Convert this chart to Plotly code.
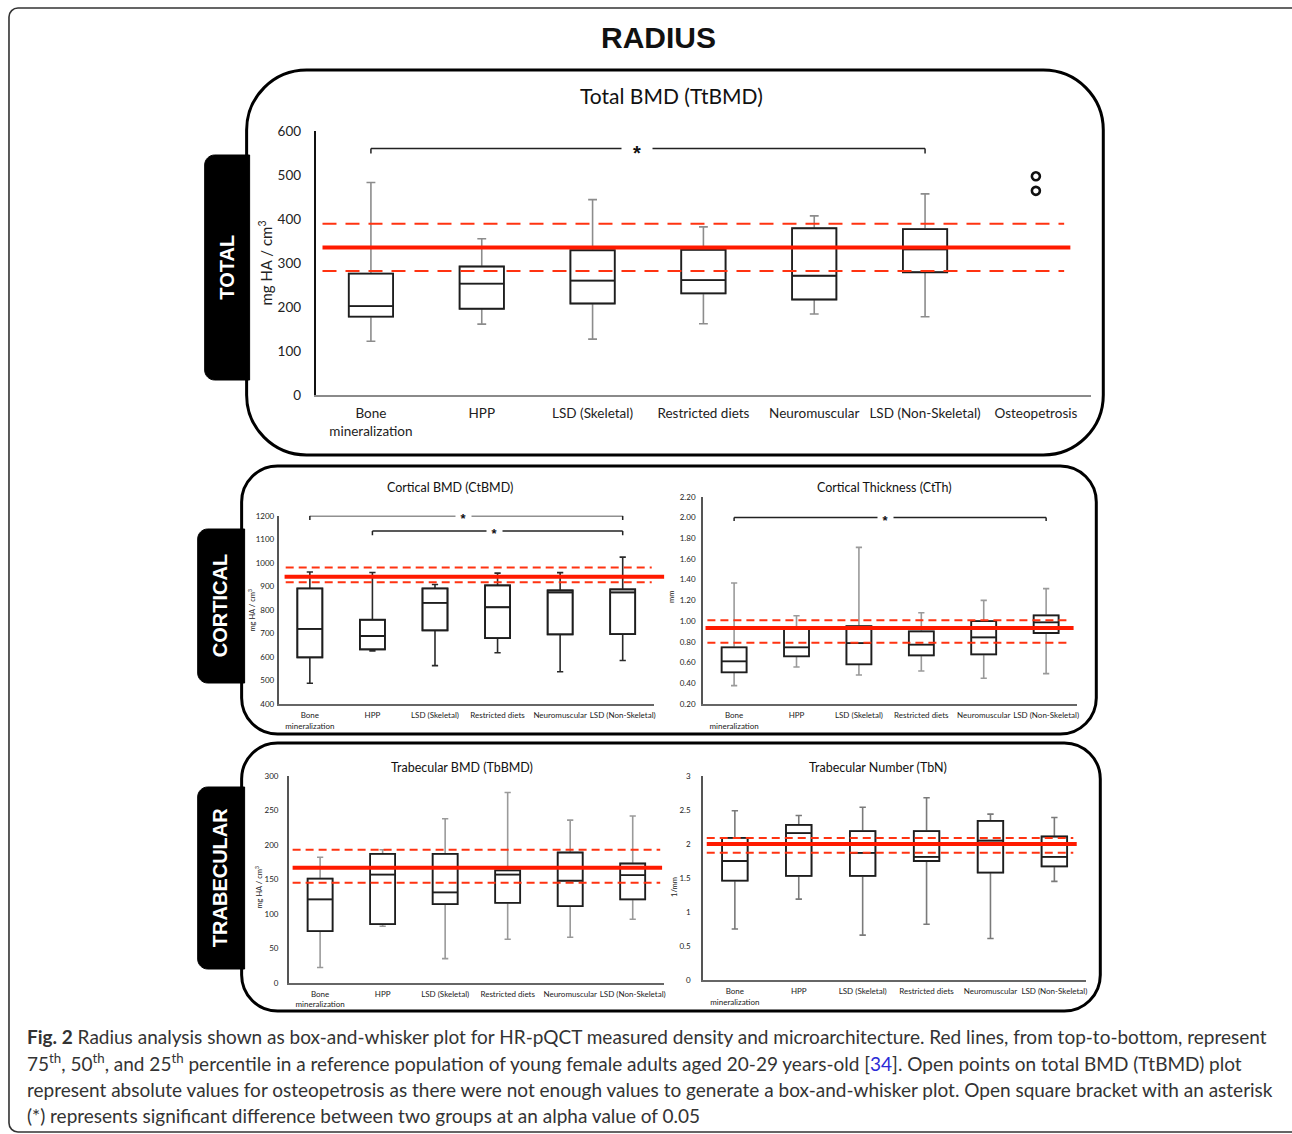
import plotly.graph_objects as go

W, H = 1292, 1134
# the rendered paper area was observed to start 8px from the top and span ~1118px
PAPER_TOP, PAPER_H = 8.0, 1118.0

# ---------------- data ----------------
cats6 = ["Bone<br>mineralization", "HPP", "LSD (Skeletal)", "Restricted diets",
         "Neuromuscular", "LSD (Non-Skeletal)"]
cats7 = cats6 + ["Osteopetrosis"]

# Total BMD (TtBMD)
tt_upper = [483, 355, 444, 382, 407, 457]
tt_q3 = [276, 292, 329, 330, 379, 377]
tt_med = [202, 253, 260, 261, 271, 331]
tt_q1 = [178, 196, 208, 231, 217, 279]
tt_lower = [122, 161, 127, 162, 184, 178]
tt_ref = [389, 335, 282]          # 75th, 50th, 25th percentile of reference
osteo_vals = [497, 464]
tt_sig = [(0, 5, 560, 549, 2.4)]  # (from, to, height, tick end, star pos)

# Cortical BMD (CtBMD)
ct_upper = [961, 959, 908, 956, 958, 1024]
ct_q3 = [891, 758, 891, 904, 883, 887]
ct_med = [719, 689, 830, 811, 874, 874]
ct_q1 = [598, 632, 713, 680, 696, 697]
ct_lower = [488, 625, 563, 618, 537, 585]
ct_ref = [980, 941, 917]
ct_sig = [(0, 5, 1200, 1182, 2.45), (1, 5, 1135, 1117, 2.95)]

# Cortical Thickness (CtTh)
cth_upper = [1.367, 1.052, 1.711, 1.081, 1.200, 1.313]
cth_q3 = [0.747, 0.930, 0.952, 0.901, 1.000, 1.055]
cth_med = [0.612, 0.747, 0.788, 0.772, 0.843, 0.988]
cth_q1 = [0.506, 0.660, 0.583, 0.669, 0.679, 0.885]
cth_lower = [0.377, 0.557, 0.480, 0.518, 0.448, 0.493]
cth_ref = [1.007, 0.933, 0.790]
cth_sig = [(0, 5, 2.0, 1.965, 2.42)]

# Trabecular BMD (TbBMD)
tb_upper = [182, 193, 238, 276, 236, 242]
tb_q3 = [151, 187, 187, 163, 189, 173]
tb_med = [121, 157, 131, 157, 148, 156]
tb_q1 = [75, 85, 114, 116, 111, 121]
tb_lower = [22, 82, 35, 63, 66, 92]
tb_ref = [193, 167, 145]

# Trabecular Number (TbN)
tbn_upper = [2.49, 2.42, 2.54, 2.68, 2.44, 2.39]
tbn_q3 = [2.09, 2.28, 2.19, 2.19, 2.34, 2.11]
tbn_med = [1.75, 2.16, 1.87, 1.81, 2.05, 1.81]
tbn_q1 = [1.46, 1.53, 1.53, 1.75, 1.58, 1.67]
tbn_lower = [0.75, 1.19, 0.66, 0.82, 0.61, 1.45]
tbn_ref = [2.09, 2.00, 1.87]

FONT = "Lato"


def X(p):
    return p / W


def Y(p):
    return 1 - (p - PAPER_TOP) / PAPER_H


def rrect(x0, y0, x1, y1, tl, tr, br, bl):
    k = 0.5523
    s = []
    s.append(f"M {X(x0+tl)},{Y(y0)}")
    s.append(f"L {X(x1-tr)},{Y(y0)}")
    if tr:
        s.append(f"C {X(x1-tr+k*tr)},{Y(y0)} {X(x1)},{Y(y0+tr-k*tr)} {X(x1)},{Y(y0+tr)}")
    s.append(f"L {X(x1)},{Y(y1-br)}")
    if br:
        s.append(f"C {X(x1)},{Y(y1-br+k*br)} {X(x1-br+k*br)},{Y(y1)} {X(x1-br)},{Y(y1)}")
    s.append(f"L {X(x0+bl)},{Y(y1)}")
    if bl:
        s.append(f"C {X(x0+bl-k*bl)},{Y(y1)} {X(x0)},{Y(y1-bl+k*bl)} {X(x0)},{Y(y1-bl)}")
    s.append(f"L {X(x0)},{Y(y0+tl)}")
    if tl:
        s.append(f"C {X(x0)},{Y(y0+tl-k*tl)} {X(x0+tl-k*tl)},{Y(y0)} {X(x0+tl)},{Y(y0)}")
    s.append("Z")
    return " ".join(s)


fig = go.Figure()
shapes = []
annotations = []
layout_axes = {}

panels = [
    dict(n=1, cats=cats7, nb=6, up=tt_upper, q3=tt_q3, med=tt_med, q1=tt_q1, lo=tt_lower,
         ref=tt_ref, sig=tt_sig, xpx=(316, 1093), ypx=(131, 395), yr=(0, 600),
         dtick=100, fmt="", fs=13.5, wcol="#8c8c8c", ww=0.2, ylc="#111", xlc="#8a8a8a",
         ticklen_y=10, ticklen_x=5, solid_w=4, dash="14px,9px", dash_w=2,
         solid_x=(0.009, 0.973), dash_x=(0.009, 0.965), star_fs=20, star_w=30,
         title="Total BMD (TtBMD)", tpos=(673, 95), tfs=21,
         ytitle="mg HA / cm<sup>3</sup>", ytpos=(265, 263), ytfs=15),
    dict(n=2, cats=cats6, nb=6, up=ct_upper, q3=ct_q3, med=ct_med, q1=ct_q1, lo=ct_lower,
         ref=ct_ref, sig=ct_sig, xpx=(279, 655), ypx=(515.7, 704), yr=(400, 1200),
         dtick=100, fmt="", fs=8, wcol="#2a2a2a", ww=0.25, ylc="#555", xlc="#666",
         ticklen_y=1, ticklen_x=3, solid_w=4, dash="8px,5px", dash_w=2,
         solid_x=(0.016, 1.027), dash_x=(0.019, 0.994), star_fs=13, star_w=15,
         title="Cortical BMD (CtBMD)", tpos=(451, 487), tfs=12.5,
         ytitle="mg HA / cm<sup>3</sup>", ytpos=(252, 610), ytfs=7.5),
    dict(n=3, cats=cats6, nb=6, up=cth_upper, q3=cth_q3, med=cth_med, q1=cth_q1, lo=cth_lower,
         ref=cth_ref, sig=cth_sig, xpx=(704, 1079), ypx=(496.7, 704), yr=(0.2, 2.2),
         dtick=0.2, fmt=".2f", fs=8, wcol="#9a9a9a", ww=0.25, ylc="#555", xlc="#666",
         ticklen_y=4, ticklen_x=3, solid_w=4, dash="8px,5px", dash_w=2,
         solid_x=(0.007, 0.99), dash_x=(0.012, 0.98), star_fs=13, star_w=15,
         title="Cortical Thickness (CtTh)", tpos=(886, 488), tfs=12.5,
         ytitle="mm", ytpos=(672, 597), ytfs=7.5),
    dict(n=4, cats=cats6, nb=6, up=tb_upper, q3=tb_q3, med=tb_med, q1=tb_q1, lo=tb_lower,
         ref=tb_ref, sig=[], xpx=(289.3, 665), ypx=(776, 982.7), yr=(0, 300),
         dtick=50, fmt="", fs=8, wcol="#9a9a9a", ww=0.25, ylc="#555", xlc="#666",
         ticklen_y=7, ticklen_x=3, solid_w=4, dash="8px,5px", dash_w=2,
         solid_x=(0.01, 0.995), dash_x=(0.01, 0.99), star_fs=13, star_w=15,
         title="Trabecular BMD (TbBMD)", tpos=(463, 767), tfs=12.5,
         ytitle="mg HA / cm<sup>3</sup>", ytpos=(259, 887), ytfs=7.5),
    dict(n=5, cats=cats6, nb=6, up=tbn_upper, q3=tbn_q3, med=tbn_med, q1=tbn_q1, lo=tbn_lower,
         ref=tbn_ref, sig=[], xpx=(704, 1088), ypx=(776, 980), yr=(0, 3),
         dtick=0.5, fmt="", fs=8, wcol="#7a7a7a", ww=0.25, ylc="#555", xlc="#666",
         ticklen_y=9, ticklen_x=3, solid_w=4, dash="8px,5px", dash_w=2,
         solid_x=(0.01, 0.975), dash_x=(0.01, 0.966), star_fs=13, star_w=15,
         title="Trabecular Number (TbN)", tpos=(879, 767), tfs=12.5,
         ytitle="1/mm", ytpos=(675, 887), ytfs=7.5),
]

for p in panels:
    n = p["n"]
    xa = "x" if n == 1 else f"x{n}"
    ya = "y" if n == 1 else f"y{n}"
    xk = "xaxis" if n == 1 else f"xaxis{n}"
    yk = "yaxis" if n == 1 else f"yaxis{n}"
    bc = p["cats"][:p["nb"]]
    # whiskers (gray) trace
    fig.add_trace(go.Box(
        x=bc, q1=p["q1"], median=p["med"], q3=p["q3"],
        lowerfence=p["lo"], upperfence=p["up"],
        xaxis=xa, yaxis=ya, boxpoints=False, width=0.4, whiskerwidth=p["ww"],
        line=dict(color=p["wcol"], width=1.6), fillcolor="rgba(255,255,255,0)",
        hoverinfo="skip", showlegend=False))
    # box (black) trace
    fig.add_trace(go.Box(
        x=bc, q1=p["q1"], median=p["med"], q3=p["q3"],
        lowerfence=p["q1"], upperfence=p["q3"],
        xaxis=xa, yaxis=ya, boxpoints=False, width=0.4, whiskerwidth=0,
        line=dict(color="#1e1e1e", width=1.8), fillcolor="rgba(255,255,255,0)",
        hoverinfo="skip", showlegend=False))

    layout_axes[xk] = dict(
        domain=[X(p["xpx"][0]), X(p["xpx"][1])], anchor=ya, type="category",
        categoryorder="array", categoryarray=p["cats"], range=[-0.5, len(p["cats"]) - 0.5],
        showline=True, linecolor=p["xlc"], linewidth=1.5, showgrid=False, zeroline=False,
        ticks="outside", ticklen=p["ticklen_x"], tickcolor="rgba(0,0,0,0)",
        tickfont=dict(family=FONT, size=p["fs"], color="#222"), fixedrange=True)
    ya_cfg = dict(
        domain=[Y(p["ypx"][1]), Y(p["ypx"][0])], anchor=xa, range=list(p["yr"]),
        showline=True, linecolor=p["ylc"], linewidth=1.5, showgrid=False, zeroline=False,
        tick0=p["yr"][0], dtick=p["dtick"],
        ticks="outside", ticklen=p["ticklen_y"], tickcolor="rgba(0,0,0,0)",
        tickfont=dict(family=FONT, size=p["fs"], color="#222"), fixedrange=True)
    if p["fmt"]:
        ya_cfg["tickformat"] = p["fmt"]
    layout_axes[yk] = ya_cfg

    # reference percentile lines
    r75, r50, r25 = p["ref"]
    for val, is_solid in ((r75, False), (r50, True), (r25, False)):
        if is_solid:
            shapes.append(dict(type="line", xref=f"{xa} domain", yref=ya,
                               x0=p["solid_x"][0], x1=p["solid_x"][1], y0=val, y1=val,
                               line=dict(color="#ff1a00", width=p["solid_w"])))
        else:
            shapes.append(dict(type="line", xref=f"{xa} domain", yref=ya,
                               x0=p["dash_x"][0], x1=p["dash_x"][1], y0=val, y1=val,
                               line=dict(color="#ff3311", width=p["dash_w"], dash=p["dash"])))

    # significance brackets
    for (i, j, h, hd, sx) in p["sig"]:
        for (a0, b0, a1, b1) in ((i, h, j, h), (i, h, i, hd), (j, h, j, hd)):
            shapes.append(dict(type="line", xref=xa, yref=ya, x0=a0, y0=b0, x1=a1, y1=b1,
                               line=dict(color="#222", width=1.5)))
        annotations.append(dict(x=sx, y=h, xref=xa, yref=ya, text="<b>*</b>", showarrow=False,
                                font=dict(family="Liberation Sans", size=p["star_fs"], color="#111"),
                                bgcolor="white", width=p["star_w"], borderpad=0,
                                yshift=-p["star_fs"] * 0.22))

    # titles
    annotations.append(dict(x=X(p["tpos"][0]), y=Y(p["tpos"][1]), xref="paper", yref="paper",
                            text=p["title"], showarrow=False, xanchor="center", yanchor="middle",
                            font=dict(family=FONT, size=p["tfs"], color="#111")))
    annotations.append(dict(x=X(p["ytpos"][0]), y=Y(p["ytpos"][1]), xref="paper", yref="paper",
                            text=p["ytitle"], showarrow=False, textangle=-90,
                            xanchor="center", yanchor="middle",
                            font=dict(family=FONT, size=p["ytfs"], color="#222")))

# osteopetrosis open points
fig.add_trace(go.Scatter(x=[cats7[6]] * len(osteo_vals), y=osteo_vals, xaxis="x", yaxis="y",
                         mode="markers", hoverinfo="skip", showlegend=False,
                         marker=dict(symbol="circle-open", size=8, color="#111",
                                     line=dict(width=2.6, color="#111"))))

# outer frame
shapes.append(dict(type="path", xref="paper", yref="paper", layer="below",
                   path=rrect(9, 8, 1302, 1132, 9, 9, 9, 9),
                   line=dict(color="#333", width=1.6)))

# black tabs with section labels
tabs = [("TOTAL", 205, 155, 250, 380), ("CORTICAL", 198, 529, 245, 683),
        ("TRABECULAR", 198, 787, 245, 969)]
for label, x0, y0, x1, y1 in tabs:
    shapes.append(dict(type="path", xref="paper", yref="paper", layer="below",
                       path=rrect(x0, y0, x1, y1, 10, 0, 0, 10),
                       fillcolor="black", line=dict(color="black", width=1)))
    annotations.append(dict(x=X((x0 + x1) / 2 - 1), y=Y((y0 + y1) / 2), xref="paper", yref="paper",
                            text=f"<b>{label}</b>", showarrow=False, textangle=-90,
                            xanchor="center", yanchor="middle",
                            font=dict(family="Liberation Sans", size=20, color="white")))

# section panels (rounded outlines)
panel_boxes = [(247, 70, 1105, 455, 60), (242, 466, 1098, 734, 36), (242, 743, 1102, 1011, 36)]
for x0, y0, x1, y1, r in panel_boxes:
    shapes.append(dict(type="path", xref="paper", yref="paper", layer="below",
                       path=rrect(x0, y0, x1, y1, r, r, r, r),
                       line=dict(color="black", width=3)))

# main title
annotations.append(dict(x=X(660), y=Y(37), xref="paper", yref="paper", text="<b>RADIUS</b>",
                        showarrow=False, xanchor="center", yanchor="middle",
                        font=dict(family="Liberation Sans", size=30, color="#111")))

# caption
caption_lines = [
    "<b>Fig. 2</b> Radius analysis shown as box-and-whisker plot for HR-pQCT measured density and microarchitecture. Red lines, from top-to-bottom, represent",
    "75<sup>th</sup>, 50<sup>th</sup>, and 25<sup>th</sup> percentile in a reference population of young female adults aged 20-29 years-old [<span style='color:#2b2bd6'>34</span>]. Open points on total BMD (TtBMD) plot",
    "represent absolute values for osteopetrosis as there were not enough values to generate a box-and-whisker plot. Open square bracket with an asterisk",
    "(*) represents significant difference between two groups at an alpha value of 0.05",
]
caption_y = [1036, 1062, 1089, 1115]
for txt, cy in zip(caption_lines, caption_y):
    annotations.append(dict(x=X(25), y=Y(cy), xref="paper", yref="paper", text=txt,
                            showarrow=False, xanchor="left", yanchor="middle",
                            font=dict(family=FONT, size=19, color="#333")))

fig.update_layout(
    width=W, height=H, margin=dict(l=0, r=0, t=0, b=0),
    paper_bgcolor="white", plot_bgcolor="rgba(0,0,0,0)",
    showlegend=False, boxmode="overlay",
    shapes=shapes, annotations=annotations, **layout_axes)

fig.write_html("out.html", config={"displayModeBar": False},
               post_script="document.body.style.margin='0px';")
